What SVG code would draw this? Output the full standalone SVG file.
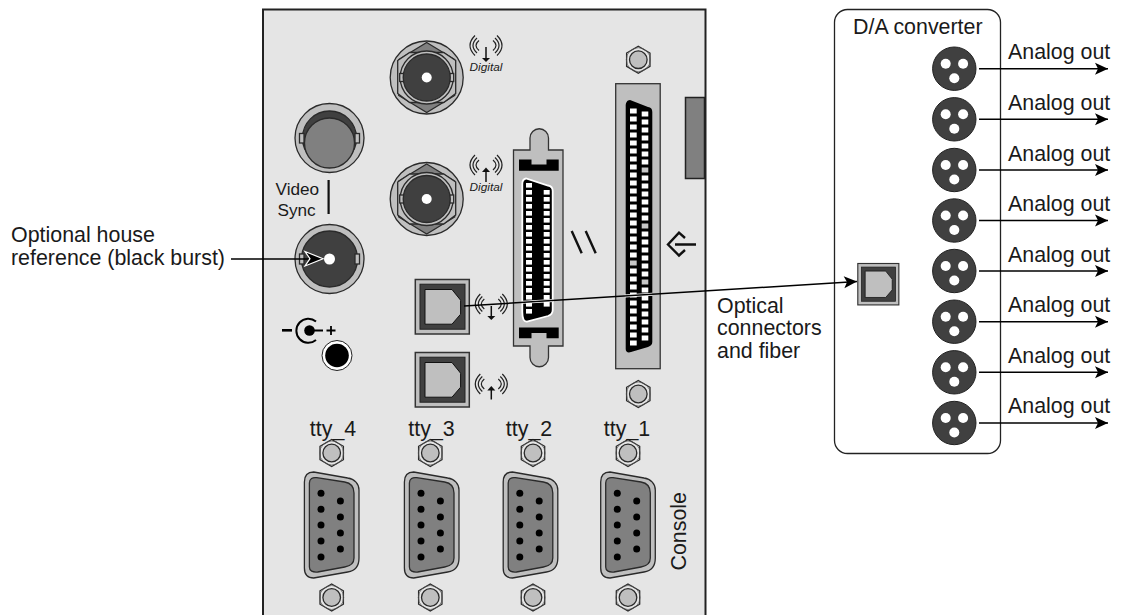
<svg xmlns="http://www.w3.org/2000/svg" width="1128" height="615" viewBox="0 0 1128 615">
<style>
text{font-family:"Liberation Sans",Arial,sans-serif;fill:#1a1a1a}
.lbl{font-size:21.4px}
.tty{font-size:21.4px;text-anchor:middle}
.vs{font-size:17.2px}
.dg{font-size:11.8px;font-style:italic;text-anchor:middle}
.e{stroke:#2a2a2a;stroke-width:1.3}
.ln{stroke:#000;stroke-width:1.5;fill:none}
.arc{fill:none;stroke:#222;stroke-width:1.2}
</style>
<defs>
<marker id="ah" markerUnits="userSpaceOnUse" markerWidth="16" markerHeight="14" refX="13" refY="6" orient="auto" overflow="visible"><path d="M0,0L13,6L0,12L3,6Z" fill="#000"/></marker>
<g id="hexs">
<path d="M0,-13.5L11.7,-6.7V6.7L0,13.5L-11.7,6.7V-6.7Z" fill="#e5e5e5" class="e"/>
<circle r="12" fill="none" stroke="#555" stroke-width=".7"/>
<circle r="8.8" fill="#bfbfbf" class="e"/>
</g>
<g id="bnc">
<circle r="36.5" fill="#bfbfbf" class="e"/>
<path d="M0,-35L28,-18V18L0,35L-28,18V-18Z" fill="#808080" class="e"/>
<path d="M-17,-25H17L29,-17V16L17,25H-17L-29,16V-17Z" fill="#bfbfbf" class="e"/>
<circle r="26.5" fill="#bfbfbf" class="e"/>
<rect x="-27" y="-4" width="4" height="8" fill="#bfbfbf" class="e"/><rect x="23" y="-4" width="4" height="8" fill="#bfbfbf" class="e"/>
<circle r="23.5" fill="#404040" class="e"/>
<circle r="5" fill="#fff"/>
</g>
<g id="opt">
<rect width="54" height="54.5" fill="#bfbfbf" stroke="#333" stroke-width="1.5"/>
<rect x="4.7" y="4.7" width="45" height="45" fill="#404040" stroke="#222"/>
<path d="M9.7,10H36.7L45.3,20.7V34.7L36.7,44.7H9.7Z" fill="#bfbfbf" stroke="#111"/>
</g>
<g id="ant">
<path class="arc" d="M-11,-10Q-21,0 -11,10M-9,-7.5Q-17,0 -9,7.5M-7,-5Q-13,0 -7,5M11,-10Q21,0 11,10M9,-7.5Q17,0 9,7.5M7,-5Q13,0 7,5"/>
</g>
<g id="db9">
<path d="M-27.3,-43C-27.3,-50 -24,-53 -18,-53L16,-47C23,-46 27.3,-41 27.3,-35V33C27.3,41 23,46 16,47L-18,53C-24,53 -27.3,50 -27.3,43Z" fill="#bfbfbf" class="e"/>
<path d="M-22.3,-42C-22.3,-46 -19,-48 -15,-47.3L13,-43C19,-42 22.3,-38 22.3,-32V33C22.3,38 19,41 13,42L-14,47C-19,47.5 -22.3,46 -22.3,42Z" fill="#808080" class="e"/>
<g fill="#000"><circle cx="-10.7" cy="-31.7" r="3.5"/><circle cx="-10.7" cy="-15.7" r="3.5"/><circle cx="-10.7" cy="0" r="3.5"/><circle cx="-10.7" cy="16" r="3.5"/><circle cx="-10.7" cy="32" r="3.5"/><circle cx="8.7" cy="-24" r="3.5"/><circle cx="8.7" cy="-8" r="3.5"/><circle cx="8.7" cy="8" r="3.5"/><circle cx="8.7" cy="24" r="3.5"/></g>
</g>
<g id="xlr">
<circle r="21.7" fill="#404040" stroke="#222"/>
<circle cx="-8.6" cy="-5" r="5" fill="#fff"/><circle cx="8.8" cy="-5" r="5" fill="#fff"/><circle cx="0" cy="9.5" r="5" fill="#fff"/>
</g>
<path id="t" d="M0,0h6v4.6h-6z"/>
</defs>

<g id="panel"><rect x="263" y="9.5" width="442.5" height="620" fill="#e5e5e5" stroke="#222" stroke-width="2"/></g>
<g id="side-tab"><rect x="685.5" y="97.5" width="19" height="81" fill="#808080" stroke="#222" stroke-width="1.5"/></g>

<g id="video-top" transform="translate(329.5,138)">
<circle r="34.5" fill="#bfbfbf" class="e"/>
<circle r="27" fill="#404040" class="e"/>
<rect x="-30" y="-4.5" width="4.5" height="9.5" fill="#bfbfbf" class="e"/><rect x="25.5" y="-4.5" width="4.5" height="9.5" fill="#bfbfbf" class="e"/>
<circle cy="5" r="25" fill="#808080" class="e"/>
</g>
<g id="video-sync"><text class="vs" x="275.5" y="195">Video</text><text class="vs" x="277.5" y="216">Sync</text><rect x="327.5" y="180" width="2.2" height="34" fill="#111"/></g>
<g id="video-bottom" transform="translate(329.5,259)">
<circle r="34.5" fill="#bfbfbf" class="e"/>
<circle r="28" fill="#404040" class="e"/>
<rect x="-30" y="-5" width="4.5" height="10" fill="#bfbfbf" class="e"/><rect x="25.5" y="-5" width="4.5" height="10" fill="#bfbfbf" class="e"/>
<circle r="5.5" fill="#fff"/>
</g>

<g id="bnc-out"><use href="#bnc" x="426.7" y="77.5"/><use href="#ant" x="486" y="45.5"/><path d="M486,47V58" stroke="#111" stroke-width="1.5"/><path d="M482,58H490L486,62Z" fill="#111"/><text class="dg" x="486" y="71">Digital</text></g>
<g id="bnc-in"><use href="#bnc" x="426.7" y="199"/><use href="#ant" x="486" y="165"/><path d="M486,172V182" stroke="#111" stroke-width="1.5"/><path d="M482,172H490L486,167.5Z" fill="#111"/><text class="dg" x="486" y="191">Digital</text></g>

<g id="opt-out"><use href="#opt" x="415.3" y="279.5"/><use href="#ant" x="491.3" y="304"/><path d="M491.3,306V316" stroke="#111" stroke-width="1.5"/><path d="M487.3,316H495.3L491.3,320Z" fill="#111"/></g>
<g id="opt-in"><use href="#opt" x="415.3" y="352.5"/><use href="#ant" x="491.3" y="384"/><path d="M491.3,390V399.5" stroke="#111" stroke-width="1.5"/><path d="M487.3,390.5H495.3L491.3,386Z" fill="#111"/></g>

<g id="power">
<rect x="282" y="329" width="10" height="2.6" fill="#000"/>
<path d="M316,321.5A12,12 0 1 0 316,340" fill="none" stroke="#000" stroke-width="2"/>
<circle cx="309.5" cy="330.5" r="5.3" fill="#000"/><rect x="309" y="329.5" width="14" height="2" fill="#000"/>
<path d="M326.5,330.5h9M331,326v9" stroke="#000" stroke-width="1.8"/>
<circle cx="337" cy="355.5" r="15" fill="#fff" stroke="#222"/><circle cx="337" cy="355.5" r="11.8" fill="#000"/>
</g>

<g id="narrow-connector">
<path d="M513.5,150H530V138A9.2,9.2 0 0 1 548.5,138V150H563V346H548.5V357.5A9.2,9.2 0 0 1 530,357.5V346H513.5Z" fill="#bfbfbf" stroke="#333" stroke-width="1.3"/>
<path d="M519,159.5H531.5V164.5H546.5V159.5H558.7V170.7H519Z" fill="#000"/>
<path d="M519,327.5H558.7V338.3H546.5V333H531.5V338.3H519Z" fill="#000"/>
<path d="M526,178.5C523,179 522.3,181 522.3,184V312C522.3,319 524,322 527,321.5L548,316C551,315 552.7,313 552.7,310V191C552.7,188 551,186 548,185.5Z" fill="#000" stroke="#fff" stroke-width="1.8"/>
<g fill="#fff">
<use href="#t" x="526" y="183"/><use href="#t" x="526" y="190"/><use href="#t" x="526" y="197"/><use href="#t" x="526" y="204"/><use href="#t" x="526" y="211"/><use href="#t" x="526" y="218"/><use href="#t" x="526" y="225"/><use href="#t" x="526" y="232"/><use href="#t" x="526" y="239"/><use href="#t" x="526" y="246"/><use href="#t" x="526" y="253"/><use href="#t" x="526" y="260"/><use href="#t" x="526" y="267"/><use href="#t" x="526" y="274"/><use href="#t" x="526" y="281"/><use href="#t" x="526" y="288"/><use href="#t" x="526" y="295"/><use href="#t" x="526" y="302"/><use href="#t" x="526" y="309"/>
<use href="#t" x="543.7" y="190"/><use href="#t" x="543.7" y="197"/><use href="#t" x="543.7" y="204"/><use href="#t" x="543.7" y="211"/><use href="#t" x="543.7" y="218"/><use href="#t" x="543.7" y="225"/><use href="#t" x="543.7" y="232"/><use href="#t" x="543.7" y="239"/><use href="#t" x="543.7" y="246"/><use href="#t" x="543.7" y="253"/><use href="#t" x="543.7" y="260"/><use href="#t" x="543.7" y="267"/><use href="#t" x="543.7" y="274"/><use href="#t" x="543.7" y="281"/><use href="#t" x="543.7" y="288"/><use href="#t" x="543.7" y="295"/><use href="#t" x="543.7" y="302"/>
</g>
</g>

<g id="wide-connector">
<rect x="615.7" y="83.7" width="44.5" height="285" fill="#bfbfbf" stroke="#333" stroke-width="1.3"/>
<path d="M630,100C627,100 625.7,103 625.7,106V349C625.7,352 628,353 631,352L648,347C651,346 652.3,344 652.3,342V112C652.3,109 651,107.5 648,107Z" fill="#000"/>
<g id="pins" fill="#fff">
<path d="M630,108.5h6.7v5h-6.7zM630,116.5h6.7v5h-6.7zM630,124.5h6.7v5h-6.7zM630,132.5h6.7v5h-6.7zM630,140.5h6.7v5h-6.7zM630,148.5h6.7v5h-6.7zM630,156.5h6.7v5h-6.7zM630,164.5h6.7v5h-6.7zM630,172.5h6.7v5h-6.7zM630,180.5h6.7v5h-6.7zM630,188.5h6.7v5h-6.7zM630,196.5h6.7v5h-6.7zM630,204.5h6.7v5h-6.7zM630,212.5h6.7v5h-6.7zM630,220.5h6.7v5h-6.7zM630,228.5h6.7v5h-6.7zM630,236.5h6.7v5h-6.7zM630,244.5h6.7v5h-6.7zM630,252.5h6.7v5h-6.7zM630,268.5h6.7v5h-6.7zM630,276.5h6.7v5h-6.7zM630,284.5h6.7v5h-6.7zM630,292.5h6.7v5h-6.7zM630,300.5h6.7v5h-6.7zM630,308.5h6.7v5h-6.7zM630,316.5h6.7v5h-6.7zM630,324.5h6.7v5h-6.7zM630,332.5h6.7v5h-6.7zM630,340.5h6.7v5h-6.7z"/>
<path d="M641.7,111.5h6.6v5h-6.6zM641.7,119.5h6.6v5h-6.6zM641.7,127.5h6.6v5h-6.6zM641.7,135.5h6.6v5h-6.6zM641.7,143.5h6.6v5h-6.6zM641.7,151.5h6.6v5h-6.6zM641.7,159.5h6.6v5h-6.6zM641.7,175.5h6.6v5h-6.6zM641.7,183.5h6.6v5h-6.6zM641.7,191.5h6.6v5h-6.6zM641.7,199.5h6.6v5h-6.6zM641.7,207.5h6.6v5h-6.6zM641.7,215.5h6.6v5h-6.6zM641.7,231.5h6.6v5h-6.6zM641.7,239.5h6.6v5h-6.6zM641.7,247.5h6.6v5h-6.6zM641.7,255.5h6.6v5h-6.6zM641.7,263.5h6.6v5h-6.6zM641.7,271.5h6.6v5h-6.6zM641.7,287.5h6.6v5h-6.6zM641.7,295.5h6.6v5h-6.6zM641.7,303.5h6.6v5h-6.6zM641.7,311.5h6.6v5h-6.6zM641.7,319.5h6.6v5h-6.6zM641.7,327.5h6.6v5h-6.6zM641.7,335.5h6.6v5h-6.6z"/>
</g>
<g fill="#c8c8c8"><rect x="630" y="260.5" width="6.7" height="5"/><rect x="641.7" y="167.5" width="6.6" height="5"/><rect x="641.7" y="223.5" width="6.6" height="5"/><rect x="641.7" y="279.5" width="6.6" height="5"/></g>
</g>

<g id="screws"><use href="#hexs" x="638.3" y="59.7"/><use href="#hexs" x="638.3" y="394"/><use href="#hexs" x="331.7" y="453"/><use href="#hexs" x="430.3" y="453"/><use href="#hexs" x="533" y="453"/><use href="#hexs" x="628" y="453"/><use href="#hexs" x="331.7" y="597.5"/><use href="#hexs" x="430.3" y="597.5"/><use href="#hexs" x="533" y="597.5"/><use href="#hexs" x="628" y="597.5"/></g>
<g id="serial"><use href="#db9" x="331.7" y="525"/><use href="#db9" x="431.7" y="525"/><use href="#db9" x="530.5" y="525"/><use href="#db9" x="628" y="525"/></g>
<g id="tty-labels"><text class="tty" x="333" y="435.5">tty_4</text><text class="tty" x="431.5" y="435.5">tty_3</text><text class="tty" x="529" y="435.5">tty_2</text><text class="tty" x="627" y="435.5">tty_1</text></g>
<text class="lbl" transform="translate(686,570.5) rotate(-90)">Console</text>

<g id="parallel-mark"><path d="M571.7,231L581.7,253.3M585.7,231L595.7,253.3" stroke="#111" stroke-width="2.4" fill="none"/></g>
<g id="scsi-mark"><path d="M685,238L679,232.7L668,244.5L679,255.5L685,250M675,244.5H696" stroke="#111" stroke-width="2.4" fill="none"/></g>

<g id="da-converter">
<rect x="834.5" y="9.5" width="166" height="444" rx="13" fill="#fff" stroke="#222" stroke-width="1.3"/>
<text class="lbl" x="853" y="33.5">D/A converter</text>
<use href="#opt" transform="translate(857.8,263.5) scale(.76)"/>
<use href="#xlr" x="954.3" y="68.7"/><use href="#xlr" x="954.3" y="119.3"/><use href="#xlr" x="954.3" y="170"/><use href="#xlr" x="954.3" y="220.5"/><use href="#xlr" x="954.3" y="271"/><use href="#xlr" x="954.3" y="321.7"/><use href="#xlr" x="954.3" y="372.3"/><use href="#xlr" x="954.3" y="423"/>
</g>

<g id="connectors">
<path d="M231,259H316" class="ln"/>
<path d="M305,251.5L323,258.7L305,266L310,258.7Z" fill="#000" stroke="#fff" stroke-width="1.2"/>
<path d="M464,306L857,281.5" stroke="#fff" stroke-width="3" stroke-dasharray="0 59 31 71 28 400" fill="none"/>
<path d="M464,306L857,281.5" class="ln" marker-end="url(#ah)"/>
<path d="M979,68.7H1108" class="ln" marker-end="url(#ah)"/>
<path d="M979,119.3H1108" class="ln" marker-end="url(#ah)"/>
<path d="M979,170H1108" class="ln" marker-end="url(#ah)"/>
<path d="M979,220.5H1108" class="ln" marker-end="url(#ah)"/>
<path d="M979,271H1108" class="ln" marker-end="url(#ah)"/>
<path d="M979,321.7H1108" class="ln" marker-end="url(#ah)"/>
<path d="M979,372.3H1108" class="ln" marker-end="url(#ah)"/>
<path d="M979,423H1108" class="ln" marker-end="url(#ah)"/>
</g>

<g id="labels">
<text class="lbl" x="11" y="242">Optional house</text>
<text class="lbl" x="11" y="265">reference (black burst)</text>
<text class="lbl" x="717" y="313">Optical</text>
<text class="lbl" x="717" y="335">connectors</text>
<text class="lbl" x="717" y="357.5">and fiber</text>
<text class="lbl" x="1008" y="59">Analog out</text>
<text class="lbl" x="1008" y="110">Analog out</text>
<text class="lbl" x="1008" y="160.5">Analog out</text>
<text class="lbl" x="1008" y="211">Analog out</text>
<text class="lbl" x="1008" y="261.5">Analog out</text>
<text class="lbl" x="1008" y="312">Analog out</text>
<text class="lbl" x="1008" y="362.5">Analog out</text>
<text class="lbl" x="1008" y="413">Analog out</text>
</g>
</svg>
